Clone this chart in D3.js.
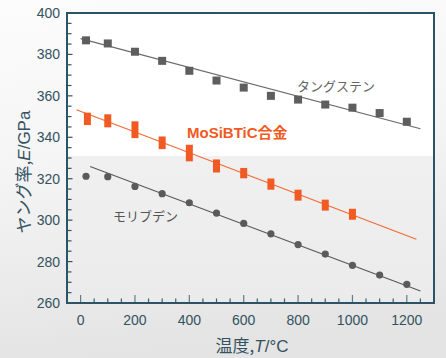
<!DOCTYPE html>
<html><head><meta charset="utf-8">
<script src="https://cdn.jsdelivr.net/npm/d3@7"></script>
<style>html,body{margin:0;padding:0;background:#fff;}svg{display:block;}</style>
</head><body>
<svg id="c" width="446" height="358"></svg>
<script>
// Data
const tungstenT = [20,100,200,300,400,500,600,700,800,900,1000,1100,1200];
const tungstenE = [386.8,385.3,381.3,376.9,372.1,367.4,364.0,360.0,358.2,355.8,354.3,351.7,347.5];
const tungstenFit = [[0,387.6],[1250,344.1]];
const alloyT = [25,100,200,300,400,500,600,700,800,900,1000];
const alloyLo = [345.9,344.8,339.6,334.3,328.4,323.0,320.2,314.7,309.4,304.6,300.2];
const alloyHi = [351.9,351.1,347.7,340.4,336.4,329.3,325.2,320.1,314.7,309.9,305.5];
const alloyFit = [[-15,353.3],[1235,290.8]];
const molyT = [20,100,200,300,400,500,600,700,800,900,1000,1100,1200];
const molyE = [321.2,321.0,316.3,312.8,308.4,303.4,298.4,293.4,288.2,283.6,278.2,273.5,269.0];
const molyFit = [[35,325.9],[1250,265.8]];
const xTicks = [0,200,400,600,800,1000,1200];
const yTicks = [260,280,300,320,340,360,380,400];

const svg = d3.select("#c");
const W=446,H=358;
const L=67,R=434,T=13,B=303;
const x = d3.scaleLinear().domain([-50,1300]).range([L,R]);
const y = d3.scaleLinear().domain([260,400]).range([B,T]);

const defs = svg.append("defs");
const bg = defs.append("linearGradient").attr("id","bg").attr("x1",0).attr("y1",0).attr("x2",0.15).attr("y2",1);
bg.append("stop").attr("offset","0%").attr("stop-color","#fcfcfc");
bg.append("stop").attr("offset","45%").attr("stop-color","#f5f5f5");
bg.append("stop").attr("offset","100%").attr("stop-color","#e4e4e4");
const pg = defs.append("linearGradient").attr("id","pg").attr("x1",0).attr("y1",0).attr("x2",0).attr("y2",1);
pg.append("stop").attr("offset","0%").attr("stop-color","#f5f5f5");
pg.append("stop").attr("offset","100%").attr("stop-color","#ebebeb");

svg.append("rect").attr("width",W).attr("height",H).attr("fill","url(#bg)");
svg.append("rect").attr("x",L).attr("y",T).attr("width",R-L).attr("height",B-T).attr("fill","url(#pg)");
svg.append("rect").attr("x",L).attr("y",T).attr("width",R-L).attr("height",156-T).attr("fill","#ffffff");

const axisCol = "#2b5566";
const textCol = "#34525f";

// ticks
const g = svg.append("g");
const xMinor = d3.range(0,1300,50);
g.selectAll(".xt").data(xMinor).join("line")
  .attr("x1",d=>x(d)).attr("x2",d=>x(d))
  .attr("y1",B).attr("y2",d=>B-(d%200===0?8:4.5))
  .attr("stroke",d=>d%200===0?"#5f7d88":"#3d5f6c").attr("stroke-width",1.2);
const yMinor = d3.range(265,400,5);
g.selectAll(".yt").data(yMinor).join("line")
  .attr("x1",L).attr("x2",d=>L+(d%20===0?5.5:4.5))
  .attr("y1",d=>y(d)).attr("y2",d=>y(d))
  .attr("stroke",axisCol).attr("stroke-width",1.2);

// frame
svg.append("rect").attr("x",L).attr("y",T).attr("width",R-L).attr("height",B-T)
  .attr("fill","none").attr("stroke",axisCol).attr("stroke-width",2);

// tick labels
svg.selectAll(".xl").data(xTicks).join("text")
  .attr("x",d=>x(d)).attr("y",325).attr("text-anchor","middle")
  .attr("font-family","Liberation Sans, Arial, sans-serif").attr("font-size",14)
  .attr("fill",textCol).text(d=>d);
svg.selectAll(".yl").data(yTicks).join("text")
  .attr("x",60).attr("y",d=>y(d)+5).attr("text-anchor","end")
  .attr("font-family","Liberation Sans, Arial, sans-serif").attr("font-size",14)
  .attr("fill",textCol).text(d=>d);

// axis titles
const xt = svg.append("text").attr("x",252).attr("y",352).attr("text-anchor","middle")
  .attr("font-family","Noto Sans CJK JP, sans-serif").attr("font-size",17).attr("fill",textCol);
xt.append("tspan").text("温度,");
xt.append("tspan").attr("font-style","italic").attr("font-family","Liberation Sans, Arial, sans-serif").text("T");
xt.append("tspan").attr("font-family","Liberation Sans, Arial, sans-serif").text("/°C");
const yt = svg.append("text").attr("transform","translate(30,172) rotate(-90)").attr("text-anchor","middle")
  .attr("font-family","Noto Sans CJK JP, sans-serif").attr("font-size",17).attr("fill",textCol);
yt.append("tspan").text("ヤング率,");
yt.append("tspan").attr("font-style","italic").attr("font-family","Liberation Sans, Arial, sans-serif").text("E");
yt.append("tspan").attr("font-family","Liberation Sans, Arial, sans-serif").text("/GPa");

const line = d3.line().x(d=>x(d[0])).y(d=>y(d[1]));
// fit lines
svg.append("path").attr("d",line(tungstenFit)).attr("stroke","#6a6a6a").attr("stroke-width",1.2).attr("fill","none");
svg.append("path").attr("d",line(molyFit)).attr("stroke","#5a5a5a").attr("stroke-width",1.2).attr("fill","none");
svg.append("path").attr("d",line(alloyFit)).attr("stroke","#f26a32").attr("stroke-width",1.2).attr("fill","none");

// tungsten squares
svg.selectAll(".w").data(tungstenT).join("rect")
  .attr("x",d=>x(d)-4).attr("y",(d,i)=>y(tungstenE[i])-4).attr("width",8).attr("height",8)
  .attr("fill","#5e5e5e");
// moly circles
svg.selectAll(".m").data(molyT).join("circle")
  .attr("cx",d=>x(d)).attr("cy",(d,i)=>y(molyE[i])).attr("r",3.6)
  .attr("fill","#5a5a5a");
// alloy bars
svg.selectAll(".a").data(alloyT).join("rect")
  .attr("x",d=>x(d)-3.5).attr("y",(d,i)=>y(alloyHi[i])).attr("width",7)
  .attr("height",(d,i)=>y(alloyLo[i])-y(alloyHi[i]))
  .attr("fill","#f15a22");

// labels
svg.append("text").attr("x",297).attr("y",91).attr("font-family","Noto Sans CJK JP, sans-serif")
  .attr("font-size",13).attr("fill","#666").text("タングステン");
svg.append("text").attr("x",187).attr("y",138).attr("font-family","Liberation Sans, Noto Sans CJK JP, sans-serif")
  .attr("font-size",15).attr("font-weight","bold").attr("fill","#f15a22").text("MoSiBTiC合金");
svg.append("text").attr("x",113).attr("y",221).attr("font-family","Noto Sans CJK JP, sans-serif")
  .attr("font-size",13).attr("fill","#555").text("モリブデン");
</script>
</body></html>
